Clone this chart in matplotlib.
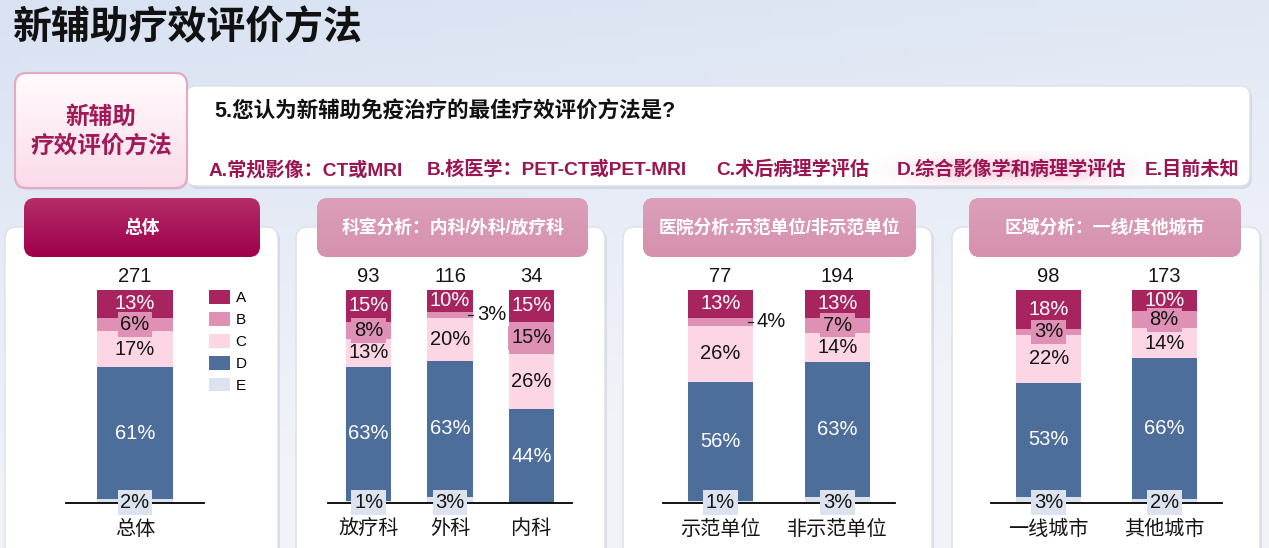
import numpy as np
import matplotlib.pyplot as plt
from matplotlib.patches import FancyBboxPatch
from matplotlib.colors import to_rgb

plt.rcParams['font.family'] = ['Liberation Sans', 'Noto Sans CJK SC', 'DejaVu Sans']

W, H = 1269, 548

options = ['A', 'B', 'C', 'D', 'E']
option_text = ['A.常规影像：CT或MRI', 'B.核医学：PET-CT或PET-MRI', 'C.术后病理学评估',
               'D.综合影像学和病理学评估', 'E.目前未知']
colors = ['#a8245f', '#df90b5', '#fdd6e6', '#4d6d9b', '#dce3ee']
label_colors = ['white', '#151515', '#151515', 'white', '#151515']

overall_cats = ['总体']
overall_n = [271]
overall_pct = [[13, 6, 17, 61, 2]]

dept_cats = ['放疗科', '外科', '内科']
dept_n = [93, 116, 34]
dept_pct = [[15, 8, 13, 63, 1],
            [10, 3, 20, 63, 3],
            [15, 15, 26, 44, 0]]

hosp_cats = ['示范单位', '非示范单位']
hosp_n = [77, 194]
hosp_pct = [[13, 4, 26, 56, 1],
            [13, 7, 14, 63, 3]]

city_cats = ['一线城市', '其他城市']
city_n = [98, 173]
city_pct = [[18, 3, 22, 53, 3],
            [10, 8, 14, 66, 2]]

panel_titles = ['总体', '科室分析：内科/外科/放疗科', '医院分析:示范单位/非示范单位', '区域分析：一线/其他城市']

fig = plt.figure(figsize=(W / 100, H / 100), dpi=100)
bg = fig.add_axes([0, 0, 1, 1])
bg.axis('off')

# page background
yy, xx = np.mgrid[0:1:60j, 0:1:120j]
t = np.clip(yy * 1.1 + xx * 0.35, 0, 1)[..., None]
grad = np.array(to_rgb('#d8e2f2')) * (1 - t) + np.array(to_rgb('#f2f3f9')) * t
bg.imshow(grad, extent=[0, W, H, 0], aspect='auto', zorder=0)
bg.set_xlim(0, W)
bg.set_ylim(H, 0)


def box(x0, y0, x1, y1, fc, ec='none', lw=0, r=10, z=1, alpha=1):
    p = FancyBboxPatch((x0, y0), x1 - x0, y1 - y0, boxstyle=f'round,pad=0,rounding_size={r}',
                       fc=fc, ec=ec, lw=lw, zorder=z, alpha=alpha)
    bg.add_patch(p)
    return p


def grad_fill(patch, c0, c1, x0, y0, x1, y1, z):
    g = np.linspace(0, 1, 50)[:, None, None]
    arr = np.array(to_rgb(c0)) * (1 - g) + np.array(to_rgb(c1)) * g
    arr = np.repeat(arr, 2, axis=1)
    im = bg.imshow(arr, extent=[x0, x1, y1, y0], aspect='auto', zorder=z)
    im.set_clip_path(patch)


bg.text(13, 29, '新辅助疗效评价方法', fontsize=28, weight='bold', va='center', color='#111111')

# question block
box(188, 88, 1252, 189, '#9aa3b5', r=10, z=1, alpha=0.25)
box(186, 86, 1250, 186, 'white', ec='#dde0e8', lw=1, r=10, z=2)
bg.add_patch(FancyBboxPatch((15, 75), 173, 115, boxstyle='round,pad=0,rounding_size=12',
                            fc='#a0a8b8', ec='none', alpha=0.2, zorder=2))
qp = box(15, 73, 187, 188, 'white', ec='#e6a9c5', lw=1.5, r=12, z=3)
grad_fill(qp, '#fffbfd', '#fadbe9', 15, 73, 187, 188, 3)
box(15, 73, 187, 188, 'none', ec='#e6a9c5', lw=1.5, r=12, z=4)
bg.text(101, 117, '新辅助', fontsize=17, weight='bold', color='#a01a58', ha='center', va='center', zorder=5)
bg.text(101, 146, '疗效评价方法', fontsize=17, weight='bold', color='#a01a58', ha='center', va='center', zorder=5)
bg.text(214, 112, '5.您认为新辅助免疫治疗的最佳疗效评价方法是?', fontsize=15.5, weight='bold',
        color='#111111', va='center', zorder=5)

# soft highlight behind option D
gy, gx = np.mgrid[-1:1:40j, -1:1:200j]
glow = np.zeros((40, 200, 4))
glow[..., :3] = to_rgb('#eeb3cc')
glow[..., 3] = 0.55 * np.exp(-(gx ** 4) * 3 - (gy ** 2) * 2.5)
bg.imshow(glow, extent=[875, 1150, 190, 150], aspect='auto', zorder=4)

opt_x = [209, 427, 716, 897, 1145]
for x, s in zip(opt_x, option_text):
    bg.text(x, 170, s, fontsize=13.8, weight='bold', color='#9b1552', va='center', zorder=5)

# panels
white_px = [(5, 278), (296, 605), (623, 932), (952, 1260)]
head_px = [(24, 260), (317, 588), (643, 916), (969, 1241)]
for (wx0, wx1), (hx0, hx1), title, k in zip(white_px, head_px, panel_titles, range(4)):
    box(wx0 + 2, 229, wx1 + 2, 570, '#9aa3b5', r=12, z=1, alpha=0.25)
    box(wx0, 227, wx1, 570, 'white', ec='#dde0e8', lw=1, r=12, z=2)
    hp = box(hx0, 198, hx1, 257, '#d897b3', r=11, z=3)
    if k == 0:
        grad_fill(hp, '#b32d68', '#a0004b', hx0, 198, hx1, 257, 3)
    else:
        grad_fill(hp, '#dc9fba', '#d591ae', hx0, 198, hx1, 257, 3)
    bg.text((hx0 + hx1) / 2, 228, title, fontsize=12.8, weight='bold', color='white',
            ha='center', va='center', zorder=5)

base_y, top_y = 503, 290
order = [4, 3, 2, 1, 0]  # stack E at the bottom, A on top


def draw_panel(x0, x1, xlim, width, cats, ns, pct, outside=()):
    ax = fig.add_axes([x0 / W, (H - base_y) / H, (x1 - x0) / W, (base_y - top_y) / H])
    ax.set_xlim(xlim)
    ax.set_ylim(0, 100)
    ax.axis('off')
    pos = np.arange(len(cats))
    arr = np.array(pct, float)
    arr = arr / arr.sum(axis=1, keepdims=True) * 100
    bottoms = np.zeros(len(cats))
    bars = {}
    px = (xlim[1] - xlim[0]) / (x1 - x0)
    for j in order:
        bars[j] = ax.bar(pos, arr[:, j], width, bottom=bottoms, color=colors[j],
                         label=options[j], zorder=2, linewidth=0)
        for i in range(len(cats)):
            v = pct[i][j]
            if v == 0:
                continue
            yc = bottoms[i] + arr[i, j] / 2
            if (i, j) in outside:
                edge = pos[i] + width / 2
                ax.plot([edge - 5 * px, edge], [yc, yc], color='#222222', lw=0.9,
                        zorder=4, clip_on=False)
                ax.text(edge + 4 * px, yc, f'{v}%', fontsize=14.5, color='#151515',
                        ha='left', va='center', zorder=4, clip_on=False)
                continue
            kw = {}
            if j in (1, 4):
                kw['bbox'] = dict(boxstyle='square,pad=0.14', fc=colors[j], ec='none')
            if j == 4:
                yc = 0.3
            ax.text(pos[i], yc, f'{v}%', fontsize=14.5, color=label_colors[j],
                    ha='center', va='center', zorder=4, clip_on=False, **kw)
        bottoms += arr[:, j]
    ax.axhline(0, color='black', lw=1.3, zorder=3, clip_on=False)
    for i in range(len(cats)):
        ax.text(pos[i], 106.5, str(ns[i]), fontsize=14.5, color='#151515',
                ha='center', va='center', clip_on=False)
        ax.text(pos[i], -12.2, cats[i], fontsize=14.5, color='#151515',
                ha='center', va='center', clip_on=False)
    return ax, bars


ax1, bars1 = draw_panel(66, 204, (-0.9, 0.9), 1.0, overall_cats, overall_n, overall_pct)
draw_panel(328, 572, (-0.5, 2.5), 0.56, dept_cats, dept_n, dept_pct, outside=[(1, 1)])
draw_panel(663, 895, (-0.49, 1.49), 0.556, hosp_cats, hosp_n, hosp_pct, outside=[(0, 1)])
draw_panel(991, 1222, (-0.5, 1.5), 0.56, city_cats, city_n, city_pct)

fig.legend([bars1[j][0] for j in range(5)], options, loc='upper left',
           bbox_to_anchor=(209 / W, 1 - 290 / H), frameon=False, borderpad=0,
           borderaxespad=0, handlelength=1.4, handleheight=1.0, handletextpad=0.35,
           labelspacing=0.45, fontsize=11)

fig.savefig('out.png', dpi=100)
